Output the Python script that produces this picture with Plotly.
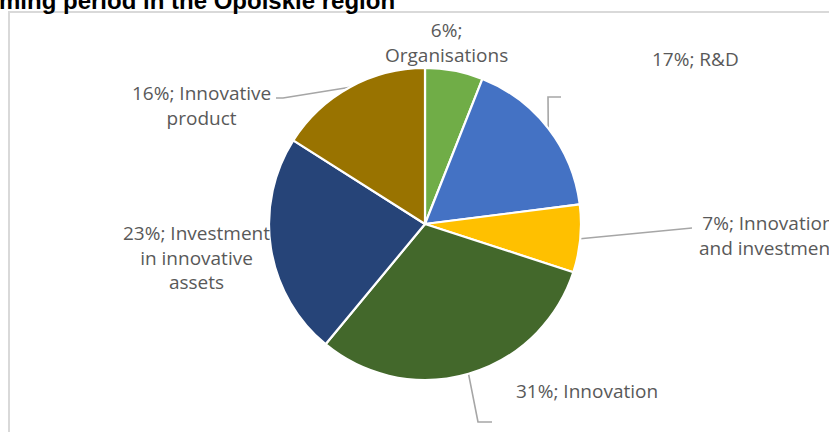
import numpy as np
import plotly.graph_objects as go

# Shares of the allocation by type of support (per cent)
categories = [
    "Organisations",
    "R&D",
    "Innovation and investment",
    "Innovation",
    "Investment in innovative assets",
    "Innovative product",
]
shares = [6, 17, 7, 31, 23, 16]
colors = ["#70AD47", "#4472C4", "#FFC000", "#43682B", "#264478", "#997300"]
label_lines = [
    ["Organisations"],
    ["R&D"],
    ["Innovation", "and investment"],
    ["Innovation"],
    ["Investment", "in innovative", "assets"],
    ["Innovative", "product"],
]
title_text = "ming period in the Opolskie region"

# Page geometry (px)
W, H = 829, 432
CX, CY, R = 425, 224, 156          # pie centre and radius


def px(x):
    return x / W


def py(y):
    return 1 - y / H


# Data-label placement (px, centre of the text block) and leader-line elbows
label_pos = {
    "Organisations": (446, 43, "center"),
    "R&D": (695, 59, "center"),
    "Innovation and investment": (697, 235, "left"),
    "Innovation": (587, 391, "center"),
    "Investment in innovative assets": (196, 257, "center"),
    "Innovative product": (201, 105, "center"),
}
leader_elbows = {
    "R&D": [(548, 97), (561, 97)],
    "Innovation and investment": [(692, 228)],
    "Innovation": [(478, 422), (492, 422)],
    "Innovative product": [(283, 98), (276, 98)],
}

fig = go.Figure()
fig.add_trace(go.Pie(
    labels=categories,
    values=shares,
    sort=False,
    direction="clockwise",
    rotation=0,
    marker=dict(colors=colors, line=dict(color="white", width=2.2)),
    textinfo="none",
    hoverinfo="label+percent",
    showlegend=False,
    domain=dict(x=[px(CX - R), px(CX + R)], y=[py(CY + R), py(CY - R)]),
))

total = sum(shares)
cum = np.cumsum([0] + shares)
shapes = []
annotations = []

for i, cat in enumerate(categories):
    pct = round(100 * shares[i] / total)
    lines = label_lines[i]
    if cat == "Organisations":
        text = f"{pct}%;<br>" + "<br>".join(lines)
    else:
        text = f"{pct}%; " + "<br>".join(lines)
    x, y, anchor = label_pos[cat]
    annotations.append(dict(
        x=px(x), y=py(y), xref="paper", yref="paper",
        text=text, showarrow=False,
        xanchor=anchor, yanchor="middle", align="center",
        font=dict(family="Open Sans", size=19, color="#595959"),
    ))
    if cat in leader_elbows:
        mid = 2 * np.pi * (cum[i] + shares[i] / 2) / total
        ex = CX + R * np.sin(mid)
        ey = CY - R * np.cos(mid)
        pts = [(ex, ey)] + leader_elbows[cat]
        path = "M " + " L ".join(f"{px(a):.5f},{py(b):.5f}" for a, b in pts)
        shapes.append(dict(
            type="path", path=path, xref="paper", yref="paper",
            line=dict(color="#A6A6A6", width=1.6), layer="below",
        ))

# Chart-area frame
shapes.append(dict(
    type="rect", xref="paper", yref="paper",
    x0=px(9), x1=px(845), y0=py(445), y1=py(12),
    line=dict(color="#D9D9D9", width=2), layer="below",
))

# Figure caption above the frame
annotations.append(dict(
    x=px(397), y=py(0.5), xref="paper", yref="paper",
    text=f"<b>{title_text}</b>", showarrow=False,
    xanchor="right", yanchor="middle",
    font=dict(family="Liberation Sans", size=24, color="#000000"),
))

fig.update_layout(
    width=W, height=H,
    margin=dict(l=0, r=0, t=0, b=0),
    paper_bgcolor="white",
    plot_bgcolor="white",
    shapes=shapes,
    annotations=annotations,
)

fig.write_html("out.html")
